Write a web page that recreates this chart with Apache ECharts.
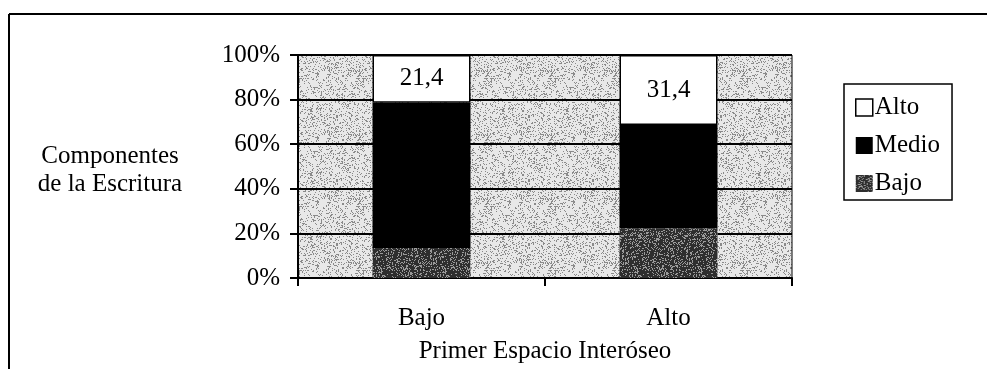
<!DOCTYPE html>
<html>
<head>
<meta charset="utf-8">
<script src="https://cdn.jsdelivr.net/npm/echarts@6/dist/echarts.min.js"></script>
<style>
  html, body { margin: 0; padding: 0; background: #fff; }
  #chart { width: 987px; height: 369px; }
</style>
</head>
<body>
<div id="chart"></div>
<script>
// Categories on the horizontal axis
const categories = ['Bajo', 'Alto'];
// Percentage share of each level within every category
const bajoValues = [13.5, 22.3];
const medioValues = [65.1, 46.3];
const altoValues = [21.4, 31.4];
// Vertical axis ticks
const yTicks = [0, 20, 40, 60, 80, 100];

const serif = '"Liberation Serif", "Times New Roman", serif';
const FS = 25;

// Stippled fill tile (seeded so the texture is the same on every load)
function stipple(base, dot, density, seed) {
  const c = document.createElement('canvas');
  c.width = 64; c.height = 64;
  const g = c.getContext('2d');
  g.fillStyle = base;
  g.fillRect(0, 0, 64, 64);
  let s = seed;
  const next = () => { s = (s * 1103515245 + 12345) % 2147483648; return s / 2147483648; };
  g.fillStyle = dot;
  for (let y = 0; y < 64; y++) {
    for (let x = 0; x < 64; x++) {
      if (next() < density) g.fillRect(x, y, 1, 1);
    }
  }
  return { image: c, repeat: 'repeat' };
}

const plotFill = stipple('#e8e8e8', '#8a8a8a', 0.2, 7);
const bajoFill = stipple('#2e2e2e', '#9a9a9a', 0.25, 11);

const chart = echarts.init(document.getElementById('chart'), null, { renderer: 'canvas' });
const fmtComma = v => String(v).replace('.', ',');

chart.setOption({
  animation: false,
  backgroundColor: '#ffffff',
  textStyle: { fontFamily: serif, color: '#000' },
  grid: {
    left: 298, right: 195, top: 55, bottom: 91,
    show: true,
    backgroundColor: plotFill,
    borderColor: '#000',
    borderWidth: 1
  },
  legend: {
    orient: 'vertical',
    left: 844, top: 84,
    padding: [11, 12, 4, 11],
    itemWidth: 17, itemHeight: 17, itemGap: 13,
    icon: 'rect',
    borderColor: '#000', borderWidth: 1.5,
    backgroundColor: '#fff',
    data: [
      { name: 'Alto', itemStyle: { color: '#fff', borderColor: '#000', borderWidth: 1.5 } },
      { name: 'Medio' },
      { name: 'Bajo' }
    ],
    textStyle: { fontFamily: serif, fontSize: FS, color: '#000', lineHeight: 25, padding: [0, 0, 0, -3] }
  },
  xAxis: {
    type: 'category',
    data: categories,
    axisLine: { lineStyle: { color: '#000', width: 2 } },
    axisTick: { show: true, length: 8, lineStyle: { color: '#000', width: 2 } },
    axisLabel: { fontFamily: serif, fontSize: FS, color: '#000', margin: 28 },
    splitLine: { show: false }
  },
  yAxis: {
    type: 'value',
    min: 0, max: 100, interval: 20,
    axisLine: { show: true, lineStyle: { color: '#000', width: 2 } },
    axisTick: { show: true, length: 8, lineStyle: { color: '#000', width: 2 } },
    axisLabel: {
      fontFamily: serif, fontSize: FS, color: '#000', margin: 18,
      formatter: v => yTicks.includes(v) ? v + '%' : ''
    },
    splitLine: { show: true, lineStyle: { color: '#000', width: 2 } }
  },
  graphic: [
    // outer frame: top and left rules
    { type: 'line', shape: { x1: 9, y1: 14, x2: 987, y2: 14 }, style: { stroke: '#000', lineWidth: 2 } },
    { type: 'line', shape: { x1: 9, y1: 14, x2: 9, y2: 369 }, style: { stroke: '#000', lineWidth: 2 } },
    {
      type: 'text', x: 110, y: 142,
      style: { text: 'Componentes\nde la Escritura', fontFamily: serif, fontSize: FS, fill: '#000', align: 'center', verticalAlign: 'top', lineHeight: 28 }
    },
    {
      type: 'text', x: 545, y: 339,
      style: { text: 'Primer Espacio Interóseo', fontFamily: serif, fontSize: FS, fill: '#000', align: 'center', verticalAlign: 'top' }
    }
  ],
  series: [
    {
      name: 'Bajo', type: 'bar', stack: 'total', barWidth: 98,
      data: bajoValues,
      itemStyle: { color: bajoFill }
    },
    {
      name: 'Medio', type: 'bar', stack: 'total', barWidth: 98,
      data: medioValues,
      itemStyle: { color: '#000' }
    },
    {
      name: 'Alto', type: 'bar', stack: 'total', barWidth: 98,
      data: altoValues,
      itemStyle: { color: '#fff', borderColor: '#000', borderWidth: 1.5 },
      label: {
        show: true, position: 'inside',
        fontFamily: serif, fontSize: FS, color: '#000',
        formatter: p => fmtComma(p.value)
      }
    }
  ]
});
</script>
</body>
</html>
